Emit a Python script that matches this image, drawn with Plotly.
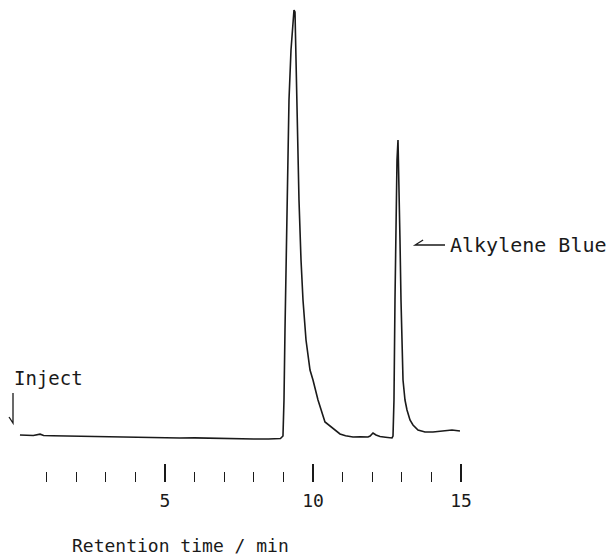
import plotly.graph_objects as go

# Retention time (min) and detector signal (arbitrary units)
time_min = [0.10, 0.30, 0.55, 0.78, 0.90, 1.20, 1.60, 2.00, 2.40, 2.80, 3.20, 3.60, 4.00,
            4.50, 5.00, 5.50, 6.00, 6.50, 7.00, 7.50, 8.00, 8.50, 8.90,
            8.986, 9.020, 9.054, 9.122, 9.189, 9.257, 9.324, 9.358, 9.392, 9.426, 9.459,
            9.527, 9.595, 9.662, 9.764, 9.899, 10.00, 10.169, 10.405, 10.642, 10.912,
            11.10, 11.351, 11.60, 11.858, 11.93, 12.027, 12.128, 12.264, 12.45, 12.669,
            12.703, 12.736, 12.770, 12.804, 12.838, 12.872, 12.905, 12.939, 12.973, 13.007,
            13.041, 13.108, 13.176, 13.277, 13.378, 13.547, 13.784, 14.054, 14.29, 14.527,
            14.696, 14.83, 14.966]
signal = [1.16, 1.10, 1.05, 1.35, 1.05, 1.00, 0.95, 0.90, 0.85, 0.70, 0.80, 0.70, 0.65,
          0.60, 0.55, 0.47, 0.50, 0.40, 0.35, 0.30, 0.25, 0.25, 0.35,
          0.93, 9.30, 25.58, 55.81, 79.07, 90.70, 97.67, 100.0, 99.53, 88.37, 79.07,
          55.81, 41.86, 32.56, 23.26, 16.28, 13.95, 9.30, 4.19, 2.79, 1.40,
          1.00, 0.70, 0.75, 0.70, 0.93, 1.63, 1.16, 0.81, 0.65, 0.47,
          0.93, 9.30, 32.56, 55.81, 65.12, 69.77, 60.47, 46.51, 32.56, 20.93,
          13.95, 9.30, 6.98, 4.65, 3.49, 2.33, 1.86, 1.86, 1.98, 2.09,
          2.33, 2.21, 2.09]

major_ticks = [5, 10, 15]
major_labels = ["5", "10", "15"]
minor_ticks = [1, 2, 3, 4, 6, 7, 8, 9, 11, 12, 13, 14]

peak_label = "Alkylene Blue"
inject_label = "Inject"
x_title = "Retention time / min"

MONO = "DejaVu Sans Mono"
INK = "#1a1a1a"

fig = go.Figure()
fig.add_trace(go.Scatter(x=time_min, y=signal, mode="lines",
                         line=dict(color=INK, width=1.6), hoverinfo="skip",
                         showlegend=False))

fig.update_layout(
    width=607, height=547,
    margin=dict(l=0, r=0, t=0, b=73),
    paper_bgcolor="white", plot_bgcolor="white",
    xaxis=dict(range=[-0.304, 20.203], showgrid=False, zeroline=False, showline=False,
               ticks="inside", ticklen=18, tickwidth=1.5, tickcolor=INK,
               tickvals=major_ticks, ticktext=major_labels,
               tickfont=dict(family=MONO, size=18, color=INK),
               ticklabelstandoff=6,
               minor=dict(tickvals=minor_ticks, ticks="inside", ticklen=10,
                          tickwidth=1.3, tickcolor=INK, showgrid=False)),
    yaxis=dict(range=[-9.767, 100.47], visible=False),
    annotations=[
        dict(x=0.285, y=-0.133, xref="paper", yref="paper", text=x_title,
             showarrow=False, xanchor="center", yanchor="middle",
             font=dict(family=MONO, size=18, color=INK)),
        dict(x=-0.17, y=14.4, xref="x", yref="y", text=inject_label,
             showarrow=False, xanchor="left", yanchor="middle",
             font=dict(family=MONO, size=19, color=INK)),
        dict(x=14.56, y=45.35, xref="x", yref="y", text=peak_label,
             showarrow=False, xanchor="left", yanchor="middle",
             font=dict(family=MONO, size=20, color=INK)),
    ],
    shapes=[
        dict(type="path", xref="x", yref="y",
             path="M 13.72,46.5 L 13.45,45.35 L 14.46,45.35",
             line=dict(color=INK, width=1.3)),
        dict(type="path", xref="x", yref="y",
             path="M -0.135,10.93 L -0.135,3.95 L -0.27,5.35",
             line=dict(color=INK, width=1.3)),
    ],
)

fig.write_html("out.html")
